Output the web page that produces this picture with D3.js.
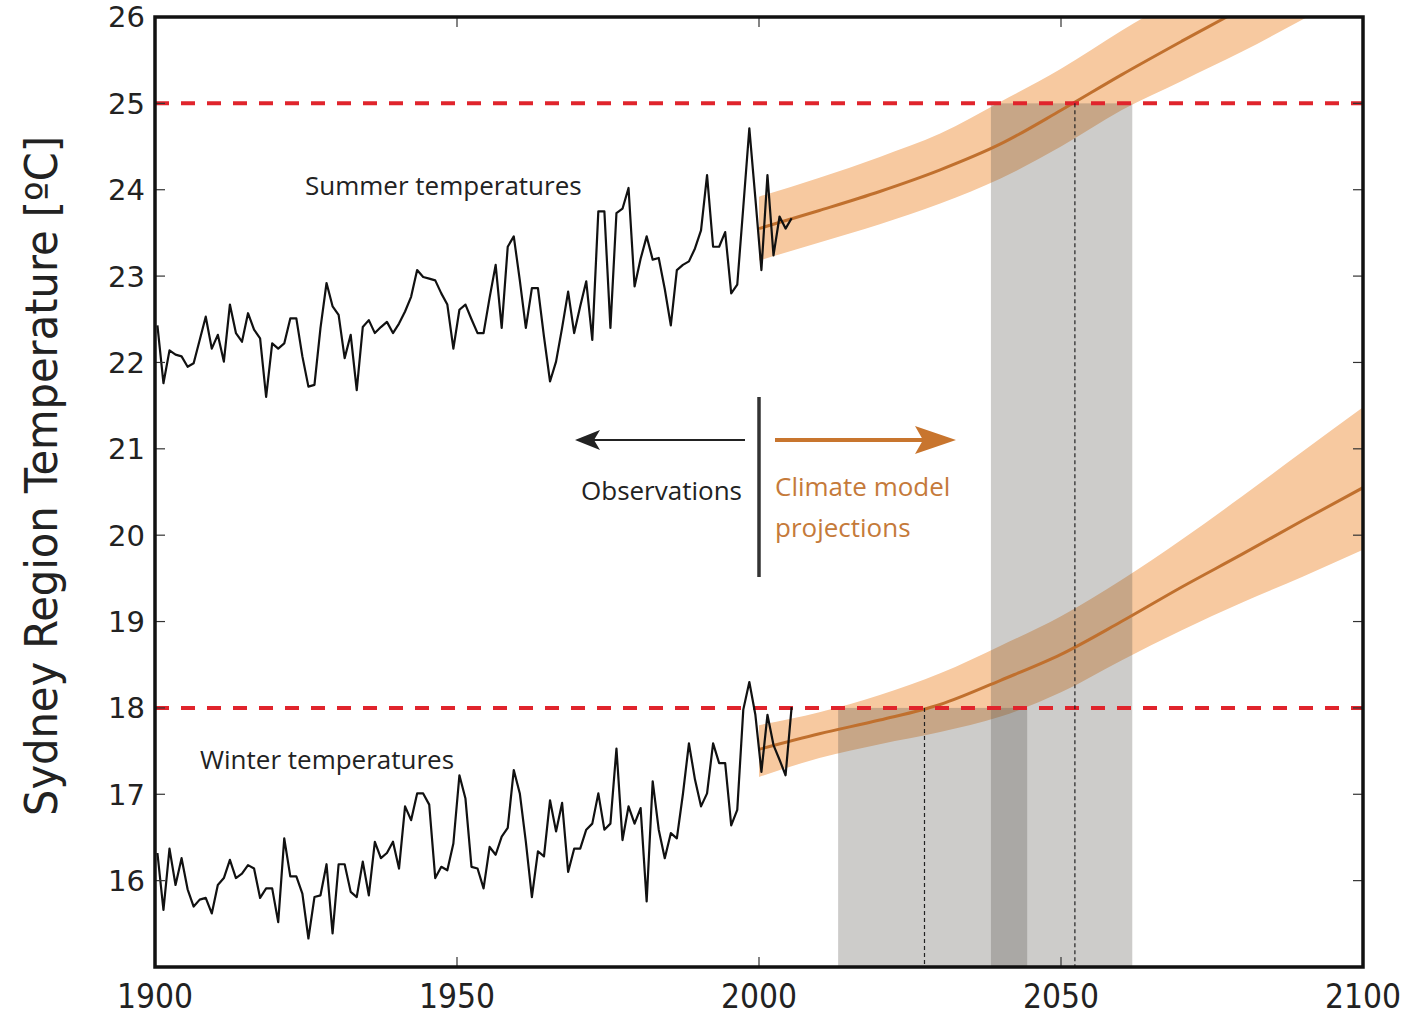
<!DOCTYPE html>
<html>
<head>
<meta charset="utf-8">
<script src="https://cdn.jsdelivr.net/npm/d3@7"></script>
<style>
  body { margin: 0; background: #fff; }
  svg { display: block; }
</style>
</head>
<body>
<div class="container"></div>
<script>
// observed seasonal means, one value per year from 1900
const obsStart = 1900;
const summerObs = [
  22.43, 21.76, 22.14, 22.09, 22.07, 21.95, 21.99, 22.26, 22.53, 22.16,
  22.32, 22.01, 22.67, 22.34, 22.24, 22.57, 22.38, 22.28, 21.60, 22.22,
  22.16, 22.22, 22.51, 22.51, 22.07, 21.72, 21.74, 22.40, 22.92, 22.65,
  22.55, 22.05, 22.32, 21.68, 22.41, 22.49, 22.34, 22.41, 22.47, 22.34,
  22.45, 22.59, 22.76, 23.07, 22.99, 22.97, 22.95, 22.80, 22.67, 22.16,
  22.61, 22.67, 22.50, 22.34, 22.34, 22.75, 23.13, 22.40, 23.34, 23.46,
  22.95, 22.40, 22.86, 22.86, 22.30, 21.78, 22.01, 22.40, 22.82, 22.34,
  22.65, 22.94, 22.26, 23.75, 23.75, 22.40, 23.73, 23.78, 24.02, 22.88,
  23.20, 23.46, 23.19, 23.21, 22.85, 22.43, 23.07, 23.13, 23.17, 23.32,
  23.53, 24.17, 23.34, 23.34, 23.51, 22.80, 22.90, 23.80, 24.71, 23.90,
  23.07, 24.17, 23.24, 23.69, 23.55, 23.67
];
const winterObs = [
  16.32, 15.66, 16.37, 15.95, 16.26, 15.90, 15.70, 15.78, 15.80, 15.62,
  15.95, 16.03, 16.24, 16.03, 16.08, 16.18, 16.14, 15.80, 15.91, 15.91,
  15.52, 16.49, 16.05, 16.05, 15.85, 15.33, 15.81, 15.83, 16.19, 15.39,
  16.19, 16.19, 15.87, 15.81, 16.22, 15.83, 16.45, 16.26, 16.32, 16.45,
  16.14, 16.86, 16.70, 17.01, 17.01, 16.88, 16.03, 16.16, 16.12, 16.43,
  17.22, 16.95, 16.16, 16.14, 15.91, 16.39, 16.30, 16.51, 16.61, 17.28,
  17.01, 16.45, 15.81, 16.34, 16.28, 16.93, 16.57, 16.90, 16.10, 16.37,
  16.37, 16.59, 16.66, 17.01, 16.59, 16.66, 17.53, 16.47, 16.86, 16.66,
  16.84, 15.76, 17.15, 16.59, 16.26, 16.55, 16.49, 17.00, 17.59, 17.17,
  16.86, 17.01, 17.59, 17.36, 17.36, 16.64, 16.82, 17.98, 18.30, 17.92,
  17.26, 17.92, 17.57, 17.40, 17.22, 18.01
];

// climate model projections
const projYears = [2000, 2010, 2020, 2030, 2040, 2050, 2060, 2070, 2080, 2090, 2100];
const summerMean = [23.55, 23.76, 23.98, 24.23, 24.53, 24.92, 25.33, 25.72, 26.10, 26.50, 26.90];
const summerLow  = [23.18, 23.39, 23.60, 23.84, 24.13, 24.50, 24.92, 25.26, 25.60, 25.97, 26.33];
const summerHigh = [23.92, 24.14, 24.38, 24.65, 25.02, 25.40, 25.84, 26.25, 26.65, 27.05, 27.45];
const winterMean = [17.52, 17.70, 17.86, 18.04, 18.32, 18.62, 19.00, 19.40, 19.78, 20.17, 20.55];
const winterLow  = [17.20, 17.42, 17.58, 17.72, 17.90, 18.18, 18.55, 18.90, 19.22, 19.52, 19.83];
const winterHigh = [17.80, 17.95, 18.15, 18.40, 18.72, 19.06, 19.48, 19.95, 20.45, 20.97, 21.48];

// thresholds and the years they are crossed
const thresholds = [25, 18];
const summerCross = { from: 2038.4, to: 2061.8, mid: 2052.3, level: 25 };
const winterCross = { from: 2013.1, to: 2044.4, mid: 2027.4, level: 18 };

const yTicks = [16, 17, 18, 19, 20, 21, 22, 23, 24, 25, 26];
const xTicks = [1900, 1950, 2000, 2050, 2100];

const W = 1427, H = 1016;
const m = { left: 155, right: 1363, top: 17, bottom: 967 };

const svg = d3.select('.container')
  .append('svg')
  .attr('width', W)
  .attr('height', H);

const x = d3.scaleLinear().domain([1900, 2100]).range([m.left, m.right]);
const y = d3.scaleLinear().domain([15, 26]).range([m.bottom, m.top]);

svg.append('defs').append('clipPath').attr('id', 'plot')
  .append('rect')
  .attr('x', m.left).attr('y', m.top)
  .attr('width', m.right - m.left).attr('height', m.bottom - m.top);

const g = svg.append('g').attr('clip-path', 'url(#plot)');

// projection bands
const makeBand = (lo, hi) => projYears.map((yr, i) => ({ yr, lo: lo[i], hi: hi[i] }));
const band = d3.area()
  .x(d => x(d.yr))
  .y0(d => y(d.lo))
  .y1(d => y(d.hi))
  .curve(d3.curveMonotoneX);

[makeBand(summerLow, summerHigh), makeBand(winterLow, winterHigh)].forEach(b => {
  g.append('path').datum(b)
    .attr('d', band)
    .attr('fill', '#f7c9a0');
});

// grey crossing windows
[summerCross, winterCross].forEach(c => {
  g.append('rect')
    .attr('x', x(c.from))
    .attr('y', y(c.level))
    .attr('width', x(c.to) - x(c.from))
    .attr('height', y(15) - y(c.level))
    .attr('fill', '#5a5650')
    .attr('fill-opacity', 0.3);
});

// projection mean lines
const meanLine = d3.line()
  .x(d => x(d.yr))
  .y(d => y(d.v))
  .curve(d3.curveMonotoneX);

[summerMean, winterMean].forEach(arr => {
  g.append('path')
    .datum(projYears.map((yr, i) => ({ yr, v: arr[i] })))
    .attr('d', meanLine)
    .attr('fill', 'none')
    .attr('stroke', '#c0702e')
    .attr('stroke-width', 3);
});

// red threshold lines
thresholds.forEach(t => {
  g.append('line')
    .attr('x1', m.left).attr('x2', m.right)
    .attr('y1', y(t)).attr('y2', y(t))
    .attr('stroke', '#e0242c')
    .attr('stroke-width', 4)
    .attr('stroke-dasharray', '14,12');
});

// crossing year markers
[summerCross, winterCross].forEach(c => {
  g.append('line')
    .attr('x1', x(c.mid)).attr('x2', x(c.mid))
    .attr('y1', y(c.level)).attr('y2', y(15))
    .attr('stroke', '#222')
    .attr('stroke-width', 1.2)
    .attr('stroke-dasharray', '4,3');
});

// observations
const obsLine = d3.line()
  .x((d, i) => x(obsStart + i + 0.4))
  .y(d => y(d));

[summerObs, winterObs].forEach(arr => {
  g.append('path').datum(arr)
    .attr('d', obsLine)
    .attr('fill', 'none')
    .attr('stroke', '#111')
    .attr('stroke-width', 2.2)
    .attr('stroke-linejoin', 'round');
});

// ticks, inside on all sides
const tickLen = 10;
yTicks.slice(0, -1).forEach(t => {
  svg.append('line').attr('x1', m.left).attr('x2', m.left + tickLen)
    .attr('y1', y(t)).attr('y2', y(t)).attr('stroke', '#333').attr('stroke-width', 1.2);
  svg.append('line').attr('x1', m.right).attr('x2', m.right - tickLen)
    .attr('y1', y(t)).attr('y2', y(t)).attr('stroke', '#333').attr('stroke-width', 1.2);
});
xTicks.slice(1, -1).forEach(t => {
  svg.append('line').attr('x1', x(t)).attr('x2', x(t))
    .attr('y1', m.bottom).attr('y2', m.bottom - tickLen).attr('stroke', '#333').attr('stroke-width', 1.2);
  svg.append('line').attr('x1', x(t)).attr('x2', x(t))
    .attr('y1', m.top).attr('y2', m.top + tickLen).attr('stroke', '#333').attr('stroke-width', 1.2);
});

// frame
svg.append('rect')
  .attr('x', m.left).attr('y', m.top)
  .attr('width', m.right - m.left).attr('height', m.bottom - m.top)
  .attr('fill', 'none')
  .attr('stroke', '#111')
  .attr('stroke-width', 3.5);

// tick labels
svg.selectAll('.ylab').data(yTicks).enter()
  .append('text')
  .attr('x', m.left - 10)
  .attr('y', d => y(d))
  .attr('dy', '0.36em')
  .attr('text-anchor', 'end')
  .attr('font-family', 'DejaVu Sans, sans-serif')
  .attr('font-size', 29)
  .attr('fill', '#222')
  .text(d => d);

svg.selectAll('.xlab').data(xTicks).enter()
  .append('text')
  .attr('x', d => x(d))
  .attr('y', 1008)
  .attr('text-anchor', 'middle')
  .attr('font-family', 'DejaVu Sans Condensed, DejaVu Sans, sans-serif')
  .attr('font-size', 33)
  .attr('textLength', 76)
  .attr('lengthAdjust', 'spacingAndGlyphs')
  .attr('fill', '#222')
  .text(d => d);

// axis title
svg.append('text')
  .attr('transform', 'translate(57,476) rotate(-90)')
  .attr('text-anchor', 'middle')
  .attr('font-family', 'DejaVu Sans Condensed, DejaVu Sans, sans-serif')
  .attr('font-size', 44)
  .attr('textLength', 680)
  .attr('lengthAdjust', 'spacingAndGlyphs')
  .attr('fill', '#222')
  .text('Sydney Region Temperature [ºC]');

// series labels
const label = (txt, lx, ly, col, anchor) => svg.append('text')
  .attr('x', lx).attr('y', ly)
  .attr('text-anchor', anchor || 'start')
  .attr('font-family', 'Open Sans, sans-serif')
  .attr('font-size', 26)
  .attr('fill', col)
  .text(txt);

label('Summer temperatures', 305, 195, '#222');
label('Winter temperatures', 200, 769, '#222');
label('Observations', 742, 500, '#222', 'end');
label('Climate model', 775, 496, '#c57a3a');
label('projections', 775, 537, '#c57a3a');

// divider and arrows
svg.append('line')
  .attr('x1', x(2000)).attr('x2', x(2000))
  .attr('y1', 397).attr('y2', 577)
  .attr('stroke', '#333').attr('stroke-width', 3.5);

svg.append('line')
  .attr('x1', 745).attr('x2', 590)
  .attr('y1', 440).attr('y2', 440)
  .attr('stroke', '#222').attr('stroke-width', 2);
svg.append('path')
  .attr('d', 'M575,440 L600,430 L594,440 L600,450 Z')
  .attr('fill', '#222');

svg.append('line')
  .attr('x1', 775).attr('x2', 925)
  .attr('y1', 440).attr('y2', 440)
  .attr('stroke', '#c8752e').attr('stroke-width', 4);
svg.append('path')
  .attr('d', 'M956,440 L915,426 L923,440 L915,454 Z')
  .attr('fill', '#c8752e');
</script>
</body>
</html>
